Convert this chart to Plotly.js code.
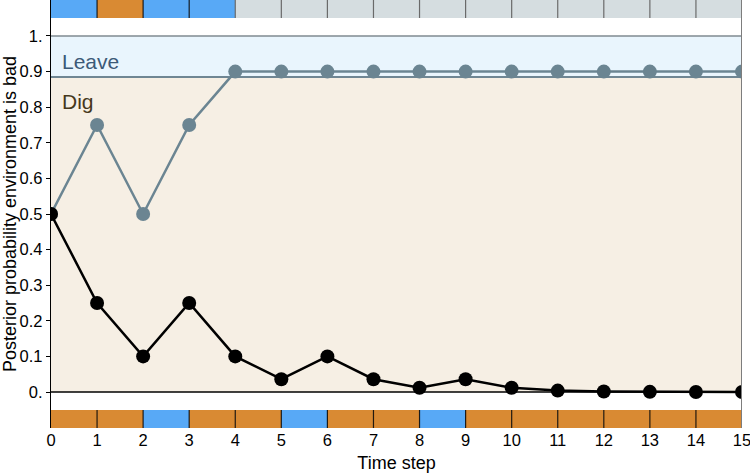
<!DOCTYPE html>
<html>
<head>
<meta charset="utf-8">
<script src="https://cdn.plot.ly/plotly-3.0.1.min.js"></script>
<style>
  html, body { margin: 0; padding: 0; background: #fff; }
  #chart { width: 750px; height: 474px; }
</style>
</head>
<body>
<div id="chart"></div>
<script>
// --- Data ---
const steps = [0, 1, 2, 3, 4, 5, 6, 7, 8, 9, 10, 11, 12, 13, 14, 15];
const leaveBelief = [0.5, 0.75, 0.5, 0.75, 0.9, 0.9, 0.9, 0.9, 0.9, 0.9, 0.9, 0.9, 0.9, 0.9, 0.9, 0.9];
const digBelief = [0.5, 0.25, 0.1, 0.25, 0.1, 0.036, 0.1, 0.036, 0.012, 0.036, 0.012, 0.004, 0.0014, 0.0005, 0.0002, 0.0001];
// outcome of each step (cell between t and t+1)
const topOutcomes = ['good', 'bad', 'good', 'good', 'none', 'none', 'none', 'none', 'none', 'none', 'none', 'none', 'none', 'none', 'none'];
const bottomOutcomes = ['bad', 'bad', 'good', 'bad', 'bad', 'good', 'bad', 'bad', 'good', 'bad', 'bad', 'bad', 'bad', 'bad', 'bad'];
const leaveThreshold = 0.885;
const yTickVals = [0, 0.1, 0.2, 0.3, 0.4, 0.5, 0.6, 0.7, 0.8, 0.9, 1];
const yTickText = ['0.', '0.1', '0.2', '0.3', '0.4', '0.5', '0.6', '0.7', '0.8', '0.9', '1.'];

// --- Style ---
const cellColors = { good: '#58a9f6', bad: '#d98a33', none: '#d5dde0' };
const FONT = 'Liberation Sans, Arial, sans-serif';
const yMin = -0.1011, yMax = 1.1011;
const stripH = 0.0506;

function stripShapes(outcomes, y0, y1) {
    const shapes = [];
    outcomes.forEach((o, i) => {
        shapes.push({
            type: 'rect', xref: 'x', yref: 'y', layer: 'below',
            x0: steps[i], x1: steps[i + 1], y0: y0, y1: y1,
            fillcolor: cellColors[o], line: { width: 0 }
        });
        if (i > 0) {
            shapes.push({
                type: 'line', xref: 'x', yref: 'y',
                x0: steps[i], x1: steps[i], y0: y0, y1: y1,
                line: { color: o === 'none' ? '#6a6a6a' : 'rgba(0,0,0,0.85)', width: 1.2 }
            });
        }
    });
    return shapes;
}

const shapes = [
    // Leave region
    { type: 'rect', xref: 'x', yref: 'y', layer: 'below', x0: 0, x1: 15, y0: leaveThreshold, y1: 1,
      fillcolor: '#e9f5fd', line: { width: 0 } },
    // Dig region
    { type: 'rect', xref: 'x', yref: 'y', layer: 'below', x0: 0, x1: 15, y0: 0, y1: leaveThreshold,
      fillcolor: '#f6efe4', line: { width: 0 } },
    { type: 'line', xref: 'x', yref: 'y', layer: 'below', x0: 0, x1: 15, y0: leaveThreshold, y1: leaveThreshold,
      line: { color: '#6f8693', width: 2 } },
    { type: 'line', xref: 'x', yref: 'y', layer: 'below', x0: 0, x1: 15, y0: 1, y1: 1,
      line: { color: '#7f8a90', width: 1.5 } },
    { type: 'line', xref: 'x', yref: 'y', layer: 'below', x0: 0, x1: 15, y0: 0, y1: 0,
      line: { color: '#000', width: 1.5 } },
    ...stripShapes(topOutcomes, yMax - stripH, yMax),
    ...stripShapes(bottomOutcomes, yMin, yMin + stripH),
    // right frame
    { type: 'line', xref: 'x', yref: 'y', x0: 15, x1: 15, y0: yMin, y1: yMax,
      line: { color: '#7d7d7d', width: 2 } }
];

const traces = [
    {
        x: steps, y: leaveBelief, type: 'scatter', mode: 'lines+markers',
        line: { color: '#6b8592', width: 2.5 },
        marker: { color: '#6b8592', size: 14 },
        hoverinfo: 'skip'
    },
    {
        x: steps, y: digBelief, type: 'scatter', mode: 'lines+markers',
        line: { color: '#000', width: 2.5 },
        marker: { color: '#000', size: 14 },
        hoverinfo: 'skip'
    }
];

const layout = {
    width: 750, height: 474,
    margin: { l: 51, r: 8, t: 0, b: 46 },
    paper_bgcolor: '#fff', plot_bgcolor: '#fff',
    font: { family: FONT, size: 16, color: '#000' },
    showlegend: false,
    xaxis: {
        range: [0, 15], tickvals: steps, showgrid: false, zeroline: false, showline: false,
        ticks: '', ticklen: 0, tickfont: { size: 16.5 }, ticklabeloverflow: 'allow',
        title: { text: 'Time step', font: { size: 18 }, standoff: 8 }
    },
    yaxis: {
        range: [yMin, yMax], tickvals: yTickVals, ticktext: yTickText,
        showgrid: false, zeroline: false, showline: true, linecolor: '#000', linewidth: 1.2,
        ticks: 'outside', ticklen: 4, tickcolor: '#000', tickfont: { size: 16.5 },
        title: { text: 'Posterior probability environment is bad', font: { size: 18 }, standoff: 4 }
    },
    shapes: shapes,
    annotations: [
        { xref: 'x', yref: 'y', x: 0.2, y: 0.928, text: 'Leave', showarrow: false, xanchor: 'left',
          font: { size: 21, color: '#3c5a78', family: FONT } },
        { xref: 'x', yref: 'y', x: 0.2, y: 0.817, text: 'Dig', showarrow: false, xanchor: 'left',
          font: { size: 21, color: '#46381c', family: FONT } }
    ]
};

Plotly.newPlot('chart', traces, layout, { displayModeBar: false, staticPlot: true });
</script>
</body>
</html>
